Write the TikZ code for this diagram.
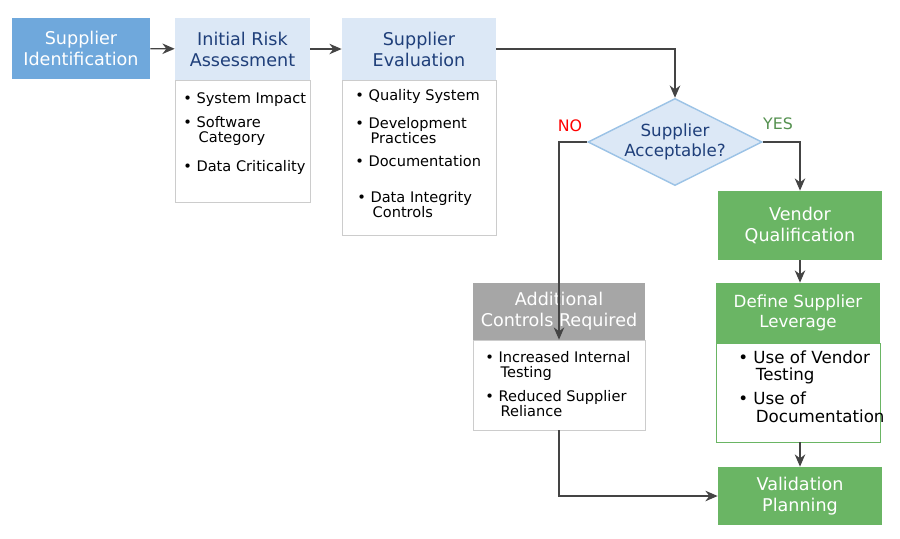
\documentclass[tikz,border=0pt]{standalone}
\usepackage{fontspec}
\setmainfont{DejaVu Sans}
\usetikzlibrary{shapes.geometric,arrows.meta,positioning}
\definecolor{idblue}{HTML}{6FA8DC}
\definecolor{hdblue}{HTML}{DCE8F6}
\definecolor{txblue}{HTML}{1F3F7A}
\definecolor{dmline}{HTML}{9CC3E6}
\definecolor{vgreen}{HTML}{6AB564}
\definecolor{cgray}{HTML}{A6A6A6}
\definecolor{bline}{HTML}{CCCCCC}
\definecolor{arr}{HTML}{444444}
\begin{document}
\begin{tikzpicture}[x=0.02cm,y=-0.02cm]

\useasboundingbox (0,0) rectangle (900,538);

\tikzstyle{mybox}=[rectangle, inner sep=0pt, align=center, font=\fontsize{10}{12}\selectfont]
\tikzstyle{myhead}=[mybox, fill=hdblue, text=txblue]
\tikzstyle{mybody}=[rectangle, inner sep=0pt, draw=bline, fill=white]
\tikzstyle{mygreen}=[mybox, fill=vgreen, text=white]
\tikzstyle{mybul}=[anchor=north west, align=left, inner sep=0pt, font=\fontsize{8.3}{8.8}\selectfont]
\tikzstyle{myarr}=[draw=arr, thick, -{Stealth[length=7pt,width=6pt]}]

% top row
\node (sid) [mybox, fill=idblue, text=white, minimum width=2.76cm, minimum height=1.22cm] at (81,48.5) {Supplier\\Identification};
\node (irabody) [mybody, minimum width=2.7cm, minimum height=2.44cm] at (242.5,141) {};
\node (ira) [myhead, minimum width=2.7cm, minimum height=1.24cm] at (242.5,49) {Initial Risk\\Assessment};
\node (ira1) [mybul] at (183,92) {\textbullet~System Impact};
\node (ira2) [mybul] at (183,116) {\textbullet~Software\\\hspace{1.05em}Category};
\node (ira3) [mybul] at (183,160) {\textbullet~Data Criticality};

\node (sebody) [mybody, minimum width=3.08cm, minimum height=3.1cm] at (419,157.5) {};
\node (se) [myhead, minimum width=3.08cm, minimum height=1.24cm] at (419,49) {Supplier\\Evaluation};
\node (se1) [mybul] at (355,89) {\textbullet~Quality System};
\node (se2) [mybul] at (355,117) {\textbullet~Development\\\hspace{1.05em}Practices};
\node (se3) [mybul] at (355,155) {\textbullet~Documentation};
\node (se4) [mybul] at (357,191) {\textbullet~Data Integrity\\\hspace{1.05em}Controls};

% decision
\node (acc) [diamond, aspect=2, inner sep=0pt, minimum width=3.4cm, minimum height=1.7cm, fill=hdblue, draw=dmline, thick, text=txblue, align=center, font=\fontsize{9.5}{11.5}\selectfont] at (675,142) {Supplier\\Acceptable?};

% no branch
\node (acrbody) [mybody, minimum width=3.44cm, minimum height=1.8cm] at (559,385) {};
\node (acr) [mybox, fill=cgray, text=white, minimum width=3.44cm, minimum height=1.14cm] at (559,311.5) {Additional\\Controls Required};
\node (acr1) [mybul] at (485,351) {\textbullet~Increased Internal\\\hspace{1.05em}Testing};
\node (acr2) [mybul] at (485,390) {\textbullet~Reduced Supplier\\\hspace{1.05em}Reliance};

% yes branch
\node (vq) [mygreen, minimum width=3.28cm, minimum height=1.38cm] at (800,225.5) {Vendor\\Qualification};
\node (dslbody) [mybody, draw=vgreen, minimum width=3.28cm, minimum height=1.98cm] at (798,392.5) {};
\node (dsl) [mygreen, minimum width=3.28cm, minimum height=1.2cm, font=\fontsize{9.5}{11.5}\selectfont] at (798,313) {Define Supplier\\Leverage};
\node (dsl1) [mybul, font=\fontsize{9.5}{10}\selectfont] at (738,350) {\textbullet~Use of Vendor\\\hspace{1.05em}Testing};
\node (dsl2) [mybul, font=\fontsize{9.5}{10.5}\selectfont] at (738,391) {\textbullet~Use of\\\hspace{1.05em}Documentation};
\node (vp) [mygreen, minimum width=3.28cm, minimum height=1.16cm] at (800,496) {Validation\\Planning};

% connectors
\draw [myarr] (sid) -- (ira);
\draw [myarr] (ira) -- (se);
\draw [myarr] (se.east) -| (acc.north);
\draw [myarr] (acc.west) -| (acrbody.north -| acr.north);
\draw [myarr] (acc.east) -| (vq.north);
\draw [myarr] (vq.south) -- (vq.south |- dsl.north);
\draw [myarr] (dslbody.south -| vq.south) -- (vp.north);
\draw [myarr] (acrbody.south) |- (vp.west);

\node (no) [red, font=\fontsize{9}{10}\selectfont] at (570,126) {NO};
\node (yes) [vgreen!80!black, font=\fontsize{9}{10}\selectfont] at (778,124) {YES};

\end{tikzpicture}
\end{document}
